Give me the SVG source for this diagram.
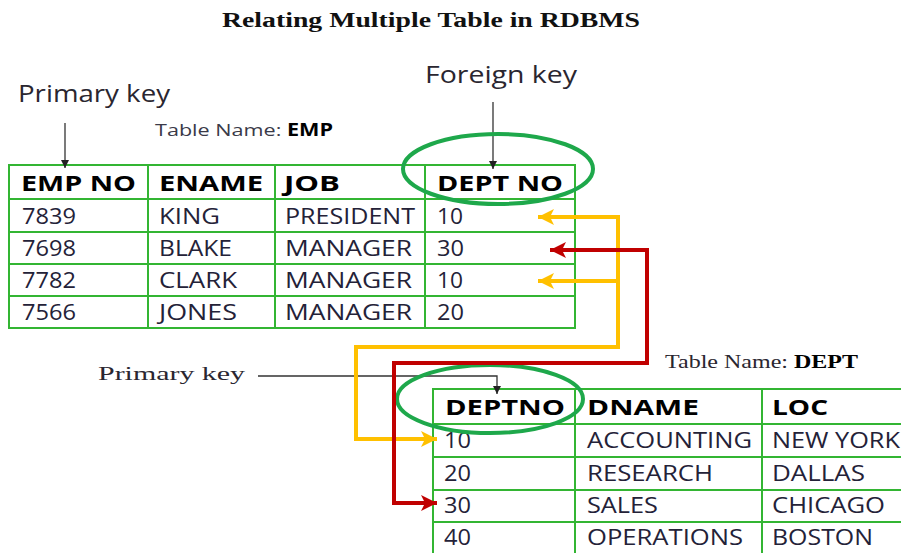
<svg xmlns="http://www.w3.org/2000/svg" width="901" height="553" viewBox="0 0 901 553">
<style>
.title{font-family:"Liberation Serif",serif;font-weight:bold;font-size:20px;fill:#111}
.lbl{font-family:"Open Sans",sans-serif;font-size:23px;fill:#2a2630}
.tn{font-family:"Open Sans",sans-serif;font-size:17px;fill:#3a3a48}
.tns{font-family:"Liberation Serif",serif;font-size:19px;fill:#2a2630}
.b{font-weight:bold;fill:#000}
.hd{font-family:"Open Sans",sans-serif;font-weight:bold;font-size:22px;fill:#000}
.cell{font-family:"Open Sans",sans-serif;font-size:21px;fill:#242238}
.grid{stroke:#33b533;stroke-width:2;fill:none}
.oval{stroke:#1ea84b;stroke-width:4;fill:none}
.ptr{stroke:#333;stroke-width:1.3;fill:none}
.yel{stroke:#ffc000;stroke-width:4;fill:none}
.red{stroke:#c00000;stroke-width:4;fill:none}
</style>
<defs>
<marker id="mk" viewBox="0 0 10 10" refX="10" refY="5" markerWidth="8" markerHeight="8" markerUnits="userSpaceOnUse" orient="auto"><path d="M0,0 L10,5 L0,10 z" fill="#222"/></marker>
<marker id="my" viewBox="0 0 10 10" refX="10" refY="5" markerWidth="16" markerHeight="16" markerUnits="userSpaceOnUse" orient="auto-start-reverse"><path d="M0,0 L10,5 L0,10 L2.5,5 z" fill="#ffc000"/></marker>
<marker id="mr" viewBox="0 0 10 10" refX="10" refY="5" markerWidth="16" markerHeight="16" markerUnits="userSpaceOnUse" orient="auto-start-reverse"><path d="M0,0 L10,5 L0,10 L2.5,5 z" fill="#c00000"/></marker>
</defs>
<rect width="901" height="553" fill="#fff"/>
<text class="title" x="222" y="27" textLength="418" lengthAdjust="spacingAndGlyphs">Relating Multiple Table in RDBMS</text>

<g id="emp-table">
<text class="tn" x="155" y="136" textLength="178" lengthAdjust="spacingAndGlyphs">Table Name: <tspan class="b">EMP</tspan></text>
<rect class="grid" x="9" y="165" width="566" height="163"/>
<line class="grid" x1="9" y1="199" x2="575" y2="199"/>
<line class="grid" x1="9" y1="232" x2="575" y2="232"/>
<line class="grid" x1="9" y1="264" x2="575" y2="264"/>
<line class="grid" x1="9" y1="296" x2="575" y2="296"/>
<line class="grid" x1="148" y1="165" x2="148" y2="328"/>
<line class="grid" x1="275" y1="165" x2="275" y2="328"/>
<line class="grid" x1="425" y1="165" x2="425" y2="328"/>
<text class="hd" x="21" y="191" textLength="115" lengthAdjust="spacingAndGlyphs">EMP NO</text>
<text class="hd" x="159" y="191" textLength="104" lengthAdjust="spacingAndGlyphs">ENAME</text>
<text class="hd" x="284" y="191" textLength="56" lengthAdjust="spacingAndGlyphs">JOB</text>
<text class="hd" x="437" y="191" textLength="126" lengthAdjust="spacingAndGlyphs">DEPT NO</text>
<text class="cell" x="22" y="224" textLength="54" lengthAdjust="spacingAndGlyphs">7839</text>
<text class="cell" x="159" y="224" textLength="61" lengthAdjust="spacingAndGlyphs">KING</text>
<text class="cell" x="285" y="224" textLength="130" lengthAdjust="spacingAndGlyphs">PRESIDENT</text>
<text class="cell" x="437" y="224" textLength="26" lengthAdjust="spacingAndGlyphs">10</text>
<text class="cell" x="22" y="256" textLength="54" lengthAdjust="spacingAndGlyphs">7698</text>
<text class="cell" x="159" y="256" textLength="73" lengthAdjust="spacingAndGlyphs">BLAKE</text>
<text class="cell" x="285" y="256" textLength="127" lengthAdjust="spacingAndGlyphs">MANAGER</text>
<text class="cell" x="437" y="256" textLength="27" lengthAdjust="spacingAndGlyphs">30</text>
<text class="cell" x="22" y="288" textLength="54" lengthAdjust="spacingAndGlyphs">7782</text>
<text class="cell" x="159" y="288" textLength="78" lengthAdjust="spacingAndGlyphs">CLARK</text>
<text class="cell" x="285" y="288" textLength="127" lengthAdjust="spacingAndGlyphs">MANAGER</text>
<text class="cell" x="437" y="288" textLength="26" lengthAdjust="spacingAndGlyphs">10</text>
<text class="cell" x="22" y="320" textLength="54" lengthAdjust="spacingAndGlyphs">7566</text>
<text class="cell" x="159" y="320" textLength="78" lengthAdjust="spacingAndGlyphs">JONES</text>
<text class="cell" x="285" y="320" textLength="127" lengthAdjust="spacingAndGlyphs">MANAGER</text>
<text class="cell" x="437" y="320" textLength="27" lengthAdjust="spacingAndGlyphs">20</text>
</g>

<g id="dept-table">
<text class="tns" x="665" y="368" textLength="193" lengthAdjust="spacingAndGlyphs">Table Name: <tspan class="b">DEPT</tspan></text>
<rect class="grid" x="433" y="389" width="470" height="166"/>
<line class="grid" x1="433" y1="424" x2="901" y2="424"/>
<line class="grid" x1="433" y1="457" x2="901" y2="457"/>
<line class="grid" x1="433" y1="490" x2="901" y2="490"/>
<line class="grid" x1="433" y1="522" x2="901" y2="522"/>
<line class="grid" x1="575" y1="389" x2="575" y2="553"/>
<line class="grid" x1="762" y1="389" x2="762" y2="553"/>
<text class="hd" x="445" y="415" textLength="120" lengthAdjust="spacingAndGlyphs">DEPTNO</text>
<text class="hd" x="587" y="415" textLength="112" lengthAdjust="spacingAndGlyphs">DNAME</text>
<text class="hd" x="772" y="415" textLength="56" lengthAdjust="spacingAndGlyphs">LOC</text>
<text class="cell" x="444" y="448" textLength="27" lengthAdjust="spacingAndGlyphs">10</text>
<text class="cell" x="587" y="448" textLength="165" lengthAdjust="spacingAndGlyphs">ACCOUNTING</text>
<text class="cell" x="772" y="448" textLength="128" lengthAdjust="spacingAndGlyphs">NEW YORK</text>
<text class="cell" x="444" y="481" textLength="27" lengthAdjust="spacingAndGlyphs">20</text>
<text class="cell" x="587" y="481" textLength="126" lengthAdjust="spacingAndGlyphs">RESEARCH</text>
<text class="cell" x="772" y="481" textLength="93" lengthAdjust="spacingAndGlyphs">DALLAS</text>
<text class="cell" x="444" y="513" textLength="27" lengthAdjust="spacingAndGlyphs">30</text>
<text class="cell" x="587" y="513" textLength="71" lengthAdjust="spacingAndGlyphs">SALES</text>
<text class="cell" x="772" y="513" textLength="113" lengthAdjust="spacingAndGlyphs">CHICAGO</text>
<text class="cell" x="444" y="545" textLength="27" lengthAdjust="spacingAndGlyphs">40</text>
<text class="cell" x="587" y="545" textLength="156" lengthAdjust="spacingAndGlyphs">OPERATIONS</text>
<text class="cell" x="772" y="545" textLength="101" lengthAdjust="spacingAndGlyphs">BOSTON</text>
</g>

<g id="emp-pk">
<text class="lbl" x="18" y="102" textLength="152" lengthAdjust="spacingAndGlyphs">Primary key</text>
<line class="ptr" x1="65" y1="123" x2="65" y2="168" marker-end="url(#mk)"/>
</g>
<g id="emp-fk">
<text class="lbl" x="425" y="83" textLength="152" lengthAdjust="spacingAndGlyphs">Foreign key</text>
<line class="ptr" x1="493" y1="102" x2="493" y2="169" marker-end="url(#mk)"/>
<ellipse class="oval" cx="498" cy="169" rx="95" ry="35"/>
</g>
<g id="dept-pk">
<text class="tns" x="98" y="380" textLength="147" lengthAdjust="spacingAndGlyphs">Primary key</text>
<path class="ptr" d="M258,376 H497 V394" marker-end="url(#mk)"/>
<ellipse class="oval" cx="490" cy="399" rx="93" ry="34"/>
</g>

<g id="connectors">
<path class="yel" d="M538,217 H618 V347 H356 V439 H437" marker-start="url(#my)" marker-end="url(#my)"/>
<path class="yel" d="M618,281 H538" marker-end="url(#my)"/>
<path class="red" d="M550,250 H647 V363 H394 V503 H437" marker-start="url(#mr)" marker-end="url(#mr)"/>
</g>
</svg>
